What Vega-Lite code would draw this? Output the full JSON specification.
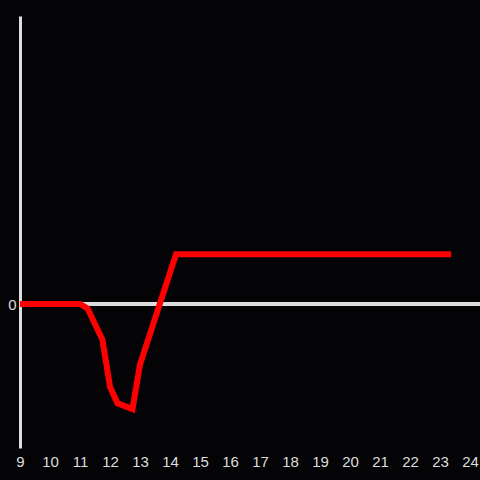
{
  "$schema": "https://vega.github.io/schema/vega-lite/v6.json",
  "width": 460,
  "height": 432,
  "autosize": {"type": "none"},
  "padding": {"left": 20, "top": 16, "right": 0, "bottom": 32},
  "background": "#040306",
  "config": {"view": {"stroke": null}, "font": "Liberation Sans"},
  "data": {"values": [
    {"x": 9, "y": 0},
    {"x": 11, "y": 0},
    {"x": 11.25, "y": -0.03},
    {"x": 11.75, "y": -0.25},
    {"x": 12, "y": -0.575},
    {"x": 12.25, "y": -0.69},
    {"x": 12.75, "y": -0.73},
    {"x": 13, "y": -0.42},
    {"x": 14.2, "y": 0.345},
    {"x": 23.37, "y": 0.345}
  ]},
  "layer": [
    {
      "mark": {"type": "rule", "color": "#dddddd", "strokeWidth": 3},
      "encoding": {"y": {"datum": 0, "type": "quantitative"}}
    },
    {
      "mark": {"type": "line", "color": "#ff0000", "strokeWidth": 6, "strokeCap": "butt", "strokeJoin": "miter"},
      "encoding": {
        "x": {"field": "x", "type": "quantitative",
          "scale": {"domain": [9, 24.333], "nice": false, "zero": false},
          "axis": {"values": [9,10,11,12,13,14,15,16,17,18,19,20,21,22,23,24], "format": "d", "title": null, "domain": false, "ticks": false, "grid": false, "labelColor": "#dddddd", "labelFontSize": 15, "labelPadding": 6, "labelFlush": false, "labelOverlap": false}},
        "y": {"field": "y", "type": "quantitative",
          "scale": {"domain": [-1, 2], "nice": false},
          "axis": {"values": [0], "format": "d", "title": null, "domain": true, "domainColor": "#dddddd", "domainWidth": 3, "ticks": false, "grid": false, "labelColor": "#dddddd", "labelFontSize": 15, "labelPadding": 4}}
      }
    }
  ]
}
